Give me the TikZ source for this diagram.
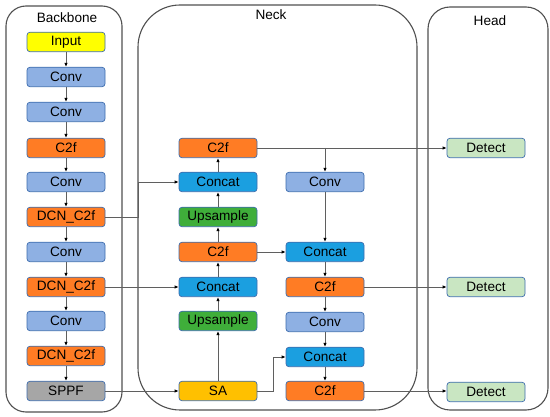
\documentclass[tikz,border=0pt]{standalone}
\usepackage{fontspec}
\setmainfont{Liberation Sans}
\usetikzlibrary{arrows.meta}
\definecolor{cInput}{HTML}{FFFF00}
\definecolor{cConv}{HTML}{8EB0E3}
\definecolor{cC2f}{HTML}{FF7C24}
\definecolor{cConcat}{HTML}{1B9FE0}
\definecolor{cUp}{HTML}{3FAE3A}
\definecolor{cSA}{HTML}{FFC000}
\definecolor{cSPPF}{HTML}{A6A6A6}
\definecolor{cDet}{HTML}{C9E6C2}
\definecolor{cBorder}{HTML}{3E6DAE}
\definecolor{cLine}{HTML}{5F5F5F}
\definecolor{cCont}{HTML}{505050}
\begin{document}
\begin{tikzpicture}[x=1pt,y=-1pt,
  blk/.style={draw=cBorder,line width=0.7pt,rounded corners=3pt,minimum width=78pt,minimum height=19.5pt,inner sep=0pt,font=\fontsize{13.6}{15}\selectfont},
  inputbox/.style={blk,fill=cInput},
  convbox/.style={blk,fill=cConv},
  ctwobox/.style={blk,fill=cC2f},
  concatbox/.style={blk,fill=cConcat},
  upbox/.style={blk,fill=cUp},
  sabox/.style={blk,fill=cSA},
  sppfbox/.style={blk,fill=cSPPF},
  detbox/.style={blk,fill=cDet},
  cont/.style={draw=cCont,line width=1.1pt},
  ttl/.style={font=\fontsize{13.6}{15}\selectfont,inner sep=0pt},
  arr/.style={draw=cLine,line width=0.8pt,-{Latex[length=4pt,width=3.5pt,color=black]}},
  ln/.style={draw=cLine,line width=0.8pt}
]
\useasboundingbox (0,0) rectangle (550,417);
% containers
\draw[cont,rounded corners=20pt] (6,6) rectangle (122,412);
\draw[cont,rounded corners=42pt] (138,5) rectangle (417,410);
\draw[cont,rounded corners=22pt] (428,7) rectangle (548,410);
\node[ttl] (tb) at (67,18) {Backbone};
\node[ttl] (tn) at (271,15) {Neck};
\node[ttl] (th) at (490,21) {Head};
% backbone
\node[inputbox] (b1) at (66,42) {Input};
\node[convbox] (b2) at (66,77) {Conv};
\node[convbox] (b3) at (66,112) {Conv};
\node[ctwobox] (b4) at (66,148) {C2f};
\node[convbox] (b5) at (66,182) {Conv};
\node[ctwobox] (b6) at (66,217) {DCN\_C2f};
\node[convbox] (b7) at (66,252) {Conv};
\node[ctwobox] (b8) at (66,287) {DCN\_C2f};
\node[convbox] (b9) at (66,321) {Conv};
\node[ctwobox] (b10) at (66,356) {DCN\_C2f};
\node[sppfbox] (b11) at (66,391) {SPPF};
\foreach \a/\b in {b1/b2,b2/b3,b3/b4,b4/b5,b5/b6,b6/b7,b7/b8,b8/b9,b9/b10,b10/b11}
  \draw[arr] (\a.south) -- (\b.north);
% neck left column
\node[ctwobox] (n1) at (218,148) {C2f};
\node[concatbox] (n2) at (218,182) {Concat};
\node[upbox] (n3) at (218,217) {Upsample};
\node[ctwobox] (n4) at (218,252) {C2f};
\node[concatbox] (n5) at (218,287) {Concat};
\node[upbox] (n6) at (218,321) {Upsample};
\node[sabox] (n7) at (218,391) {SA};
% neck right column
\node[convbox] (m1) at (325,182) {Conv};
\node[concatbox] (m2) at (325,252) {Concat};
\node[ctwobox] (m3) at (325,287) {C2f};
\node[convbox] (m4) at (325,322) {Conv};
\node[concatbox] (m5) at (325,357) {Concat};
\node[ctwobox] (m6) at (325,391) {C2f};
% head
\node[detbox] (d1) at (486,148) {Detect};
\node[detbox] (d2) at (486,287) {Detect};
\node[detbox] (d3) at (486,392) {Detect};
% junction coordinates
\coordinate (j1) at (138,0);
\coordinate (j2) at (273,0);
% neck left chain
\foreach \a/\b in {n7/n6,n6/n5,n5/n4,n4/n3,n3/n2,n2/n1}
  \draw[arr] (\a.north) -- (\b.south);
% right chain
\foreach \a/\b in {m1/m2,m2/m3,m3/m4,m4/m5,m5/m6}
  \draw[arr] (\a.south) -- (\b.north);
% cross links
\draw[arr] (b6.east) -| (j1 |- n2.west) -- (n2.west);
\draw[arr] (b8.east) -- (n5.west);
\draw[arr] (b11.east) -- (n7.west);
\draw[arr] (n1.east) -- (d1.west);
\draw[arr] (n1.east -| m1.north) -- (m1.north);
\draw[arr] (n4.east) -- (m2.west);
\draw[arr] (m3.east) -- (d2.west);
\draw[arr] (m6.east) -- (d3.west |- m6.east);
\draw[arr] (n7.east) -| (j2 |- m5.west) -- (m5.west);
\end{tikzpicture}
\end{document}
